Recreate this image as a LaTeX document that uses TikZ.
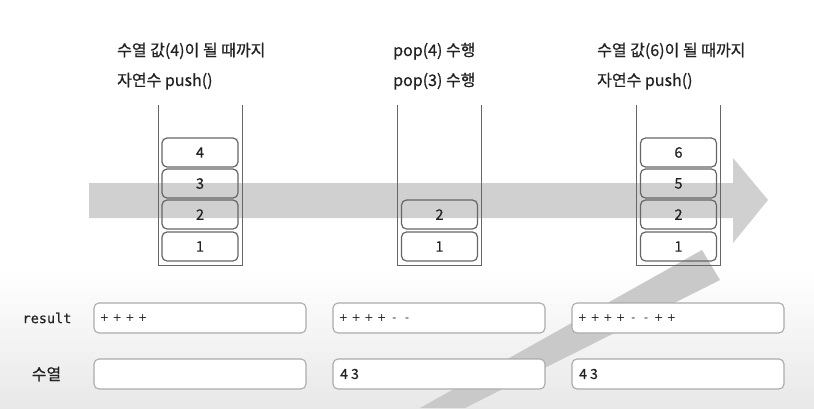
\documentclass[tikz,border=0pt]{standalone}
\usepackage{fontspec}
\setmainfont{Noto Sans CJK KR}[FakeBold=0.6]
\newfontfamily\kr{Noto Sans CJK KR}[FakeBold=0.6]
\newfontfamily\monof{DejaVu Sans Mono}[FakeBold=0.4]
\newfontfamily\symf{DejaVu Sans}
\definecolor{band}{HTML}{D0D0D0}
\definecolor{band2}{HTML}{C9C9C9}
\definecolor{stk}{HTML}{666666}
\definecolor{rbox}{HTML}{ABABAB}
\definecolor{txt}{HTML}{222222}
\newcommand\cp{\makebox[12.7pt][c]{+}}
\newcommand\cm{\makebox[12.7pt][c]{-}}
\begin{document}
\begin{tikzpicture}[x=1pt,y=-1pt,
  title/.style={anchor=base west,inner sep=0pt,font=\kr\fontsize{16}{18}\selectfont,text=txt},
  sbox/.style={draw=stk,line width=1.2pt,rounded corners=5pt,minimum width=76pt,minimum height=29pt,inner sep=0pt,font=\kr\fontsize{14.5}{15}\selectfont,text=txt},
  stack/.style={draw=stk,line width=1pt},
  rbox/.style={draw=rbox,line width=1.1pt,fill=white,rounded corners=5pt,minimum width=212pt,minimum height=30pt,inner sep=0pt},
  rtext/.style={anchor=west,inner sep=0pt,font=\symf\fontsize{11}{12}\selectfont,text=txt},
  stext/.style={anchor=west,inner sep=0pt,font=\kr\fontsize{14}{15}\selectfont,text=txt},
  lab/.style={inner sep=0pt,text=txt}]
\useasboundingbox (0,0) rectangle (814,408);
% background
\fill[white] (0,0) rectangle (814,408);
\shade[top color=white,bottom color=black!9] (0,270) rectangle (814,408);
% horizontal arrow
\fill[band] (89,183) -- (733,183) -- (733,158) -- (768,200) -- (733,243) -- (733,218) -- (89,218) -- cycle;
% diagonal band
\fill[band2] (420,408) -- (702,250) -- (720,280) -- (465,408) -- cycle;
% stacks
\draw[stack] (158,105) -- (158,265) -- (242,265) -- (242,105);
\draw[stack] (397,105) -- (397,265) -- (481,265) -- (481,105);
\draw[stack] (636,105) -- (636,265) -- (720,265) -- (720,105);
% stack 1 boxes
\node[sbox] (a1) at (200,246.5) {1};
\node[sbox] (a2) at (200,214.5) {2};
\node[sbox] (a3) at (200,183.5) {3};
\node[sbox] (a4) at (200,152.5) {4};
% stack 2 boxes
\node[sbox] (b1) at (439.5,246.5) {1};
\node[sbox] (b2) at (439.5,214.5) {2};
% stack 3 boxes
\node[sbox] (c1) at (678.5,246.5) {1};
\node[sbox] (c2) at (678.5,214.5) {2};
\node[sbox] (c3) at (678.5,183.5) {5};
\node[sbox] (c4) at (678.5,152.5) {6};
% titles
\node[title] (t1a) at (117,56) {수열 값(4)이 될 때까지};
\node[title] (t1b) at (117,86) {자연수 push()};
\node[title] (t2a) at (393,56) {pop(4) 수행};
\node[title] (t2b) at (393,86) {pop(3) 수행};
\node[title] (t3a) at (597,56) {수열 값(6)이 될 때까지};
\node[title] (t3b) at (597,86) {자연수 push()};
% bottom labels
\node[lab,font=\monof\fontsize{13.5}{15}\selectfont] (lr) at (47,318) {result};
\node[lab,font=\kr\fontsize{16}{18}\selectfont] (ls) at (46.5,374) {수열};
% result boxes
\node[rbox] (r1) at (200,318) {};
\node[rbox] (r2) at (439,318) {};
\node[rbox] (r3) at (678,318) {};
\node[rtext] (r1t) at (98,318) {\cp\cp\cp\cp};
\node[rtext] (r2t) at (337,318) {\cp\cp\cp\cp\cm\cm};
\node[rtext] (r3t) at (576,318) {\cp\cp\cp\cp\cm\cm\cp\cp};
% sequence boxes
\node[rbox] (q1) at (200,374) {};
\node[rbox] (q2) at (439,374) {};
\node[rbox] (q3) at (678,374) {};
\node[stext] (q2t) at (340,374) {4 3};
\node[stext] (q3t) at (579,374) {4 3};
\end{tikzpicture}
\end{document}
